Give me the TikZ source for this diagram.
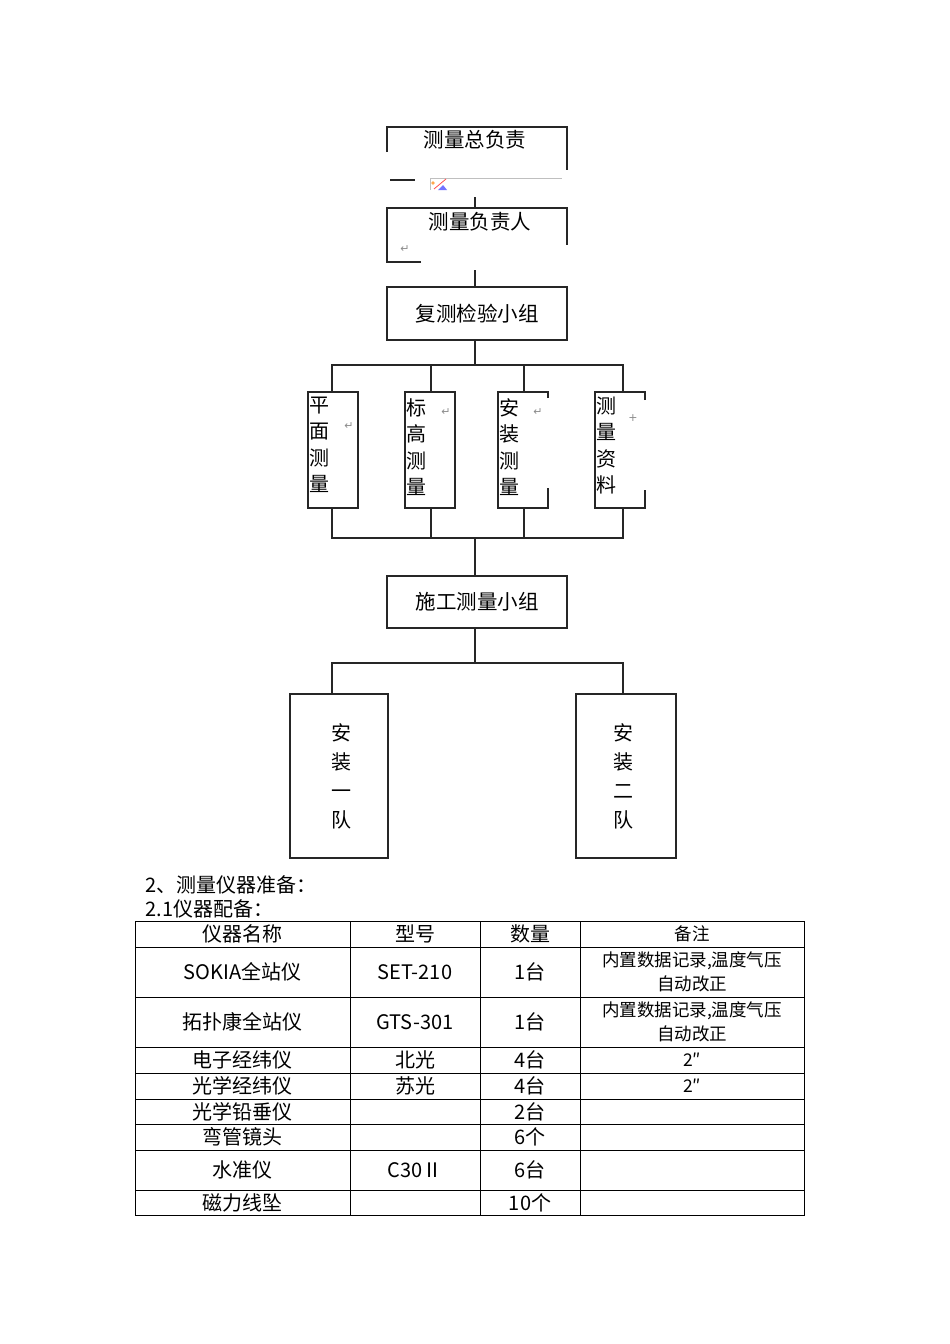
\documentclass[tikz,border=0pt]{standalone}
\usepackage{fontspec}
\setmainfont{Liberation Serif}
\newfontfamily\cjk{Noto Sans CJK SC}
\newfontfamily\dv{DejaVu Sans}
\begin{document}
\begin{tikzpicture}[x=1pt,y=-1pt,line width=1.3pt,
  ln/.style={draw=black!85},
  tx/.style={font=\cjk\fontsize{20.5}{20}\selectfont,inner sep=0pt},
  vt/.style={font=\cjk\fontsize{20}{26.5}\selectfont,inner sep=0pt,align=center,anchor=north},
  rt/.style={font=\dv\fontsize{11}{11}\selectfont,text=black!45,inner sep=0pt},
  tb/.style={font=\cjk\fontsize{20}{19}\selectfont,inner sep=0pt,align=center}]
\useasboundingbox (0,0) rectangle (950,1344);
% box1
\draw[ln] (387,152) -- (387,127) -- (567,127) -- (567,170);
\node[tx] (b1) at (475,140) {测量总负责};
\draw[ln] (390,180) -- (415,180);
\draw[black!25,line width=0.6pt] (430,190) -- (430,178) -- (562,178);
\fill[orange!70] (433,183) circle (1.8pt);
\draw[red!70,line width=0.8pt] (434,189) -- (446,179);
\fill[blue!55] (438,190) -- (443,185) -- (447,190) -- cycle;
\coordinate (c1) at (475,197);
% box2
\draw[ln] (421,262) -- (387,262) -- (387,208) -- (567,208) -- (567,245);
\node[tx] (b2) at (480,222) {测量负责人};
\node[rt] at (405,249) {↵};
\draw[ln] (c1) -- (475,208);
\coordinate (c2) at (475,270);
% box3
\node[draw=black!85,minimum width=180pt,minimum height=53pt,tx] (b3) at (477,313.5) {复测检验小组};
\draw[ln] (c2) -- (b3.north -| c2);
\coordinate (h1) at (475,365);
\draw[ln] (b3.south -| h1) -- (h1);
\draw[ln] (332,392) -- (332,365) -- (623,365) -- (623,392);
\draw[ln] (431,365) -- (431,392); \draw[ln] (524,365) -- (524,392);
% small boxes
\draw[ln] (308,392) rectangle (358,508);
\draw[ln] (405,392) rectangle (455,508);
\draw[ln] (548,398) -- (548,392) -- (498,392) -- (498,508) -- (548,508) -- (548,488);
\draw[ln] (645,400) -- (645,392) -- (595,392) -- (595,508) -- (645,508) -- (645,490);
\node[vt] (s1) at (319,396) {平\\面\\测\\量};
\node[vt] (s2) at (416,398) {标\\高\\测\\量};
\node[vt] (s3) at (509,398) {安\\装\\测\\量};
\node[vt] (s4) at (606,396) {测\\量\\资\\料};
\node[rt] at (349,426) {↵}; \node[rt] at (446,412) {↵};
\node[rt] at (538,412) {↵}; \node[rt] at (633,418) {+};
\draw[ln] (332,508) -- (332,538) -- (623,538) -- (623,508);
\draw[ln] (431,508) -- (431,538); \draw[ln] (524,508) -- (524,538);
% box4
\node[draw=black!85,minimum width=180pt,minimum height=52pt,tx] (b4) at (477,602) {施工测量小组};
\draw[ln] (475,538) -- (b4.north -| h1);
\draw[ln] (b4.south -| h1) -- (475,663);
\draw[ln] (332,694) -- (332,663) -- (623,663) -- (623,694);
\node[draw=black!85,minimum width=98pt,minimum height=164pt] (t1) at (339,776) {};
\node[draw=black!85,minimum width=100pt,minimum height=164pt] (t2) at (626,776) {};
\node[vt,font=\cjk\fontsize{20}{29}\selectfont] at (341,723) {安\\装\\一\\队};
\node[vt,font=\cjk\fontsize{20}{29}\selectfont] at (623,723) {安\\装\\二\\队};
% text
\node[tb,anchor=west] (p1) at (145,885) {2、测量仪器准备：};
\node[tb,anchor=west] (p2) at (145,909) {2.1仪器配备：};
% table
\begin{scope}[line width=0.8pt]
\draw (135,921) rectangle (804,1215);
\foreach \y in {947,997,1047,1073,1099,1124,1150,1190} \draw (135,\y) -- (804,\y);
\foreach \x in {350,480,580} \draw (\x,921) -- (\x,1215);
\end{scope}
\foreach \r/\ya/\yb/\a/\b/\c/\d in {
 0/921/947/仪器名称/型号/数量/备注,
 1/947/997/SOKIA全站仪/SET-210/1台/{内置数据记录,温度气压\\自动改正},
 2/997/1047/拓扑康全站仪/GTS-301/1台/{内置数据记录,温度气压\\自动改正},
 3/1047/1073/电子经纬仪/北光/4台/2″,
 4/1073/1099/光学经纬仪/苏光/4台/2″,
 5/1099/1124/光学铅垂仪/{}/2台/{},
 6/1124/1150/弯管镜头/{}/6个/{},
 7/1150/1190/水准仪/C30Ⅱ/6台/{},
 8/1190/1215/磁力线坠/{}/10个/{}}{
 \node[tb] at (242.5,{(\ya+\yb)/2}) {\a};
 \node[tb] at (415,{(\ya+\yb)/2}) {\b};
 \node[tb] at (530,{(\ya+\yb)/2}) {\c};
 \node[tb,font=\cjk\fontsize{17.5}{24}\selectfont] at (692,{(\ya+\yb)/2}) {\d};
}
\end{tikzpicture}
\end{document}
